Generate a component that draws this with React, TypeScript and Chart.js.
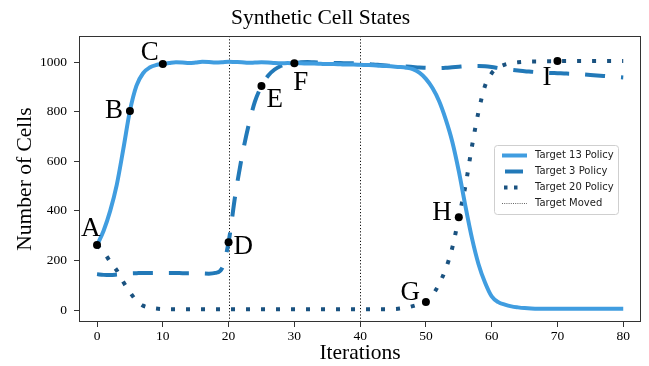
import React, { useEffect, useRef } from 'react';
import { Chart, registerables } from 'chart.js';

Chart.register(...registerables);

// ---------- data ----------
const iterations: number[] = Array.from({ length: 81 }, (_, i) => i);

const target13: number[] = [
  262, 320, 400, 505, 650, 803, 905, 955, 978, 988,
  992, 996, 999, 998, 996, 998, 1001, 1000, 998, 999,
  1001, 1000, 999, 997, 998, 999, 998, 996, 995, 996,
  995, 995, 994, 994, 993, 992, 992, 991, 990, 990,
  989, 988, 987, 985, 984, 982, 980, 977, 971, 957,
  932, 895, 843, 770, 680, 560, 420, 290, 185, 110,
  55, 32, 22, 15, 11, 8, 6, 5, 5, 5,
  5, 5, 5, 5, 5, 5, 5, 5, 5, 5,
  5,
];

const target3: number[] = [
  145, 142, 141, 143, 146, 148, 149, 150, 150, 150,
  150, 150, 150, 149, 149, 149, 148, 147, 150, 168,
  274, 460, 615, 740, 840, 903, 945, 970, 985, 993,
  996, 999, 1000, 999, 998, 997, 996, 996, 995, 995,
  995, 993, 990, 988, 986, 984, 983, 982, 980, 978,
  977, 976, 976, 977, 979, 981, 983, 984, 984, 983,
  980, 976, 972, 969, 966, 963, 961, 959, 957, 956,
  955, 954, 953, 952, 950, 948, 946, 944, 942, 940,
  938,
];

const target20: number[] = [
  262, 235, 195, 160, 113, 72, 38, 18, 10, 6,
  4, 3, 3, 3, 3, 3, 3, 3, 3, 3,
  3, 3, 3, 3, 3, 3, 3, 3, 3, 3,
  3, 3, 3, 3, 3, 3, 3, 3, 3, 3,
  3, 3, 3, 3, 3, 4, 6, 10, 16, 24,
  33, 60, 105, 165, 250, 374, 500, 660, 800, 905,
  955, 978, 990, 996, 999, 1001, 1002, 1002, 1003, 1003,
  1004, 1004, 1004, 1004, 1004, 1004, 1004, 1004, 1004, 1004,
  1004,
];

const targetMovedAt: number[] = [20, 40];

const markerLabels: string[] = ['A', 'B', 'C', 'D', 'E', 'F', 'G', 'H', 'I'];
const markerX: number[] = [0, 5, 10, 20, 25, 30, 50, 55, 70];
const markerY: number[] = [262, 803, 992, 274, 903, 995, 33, 374, 1004];

const xTickValues: number[] = [0, 10, 20, 30, 40, 50, 60, 70, 80];
const yTickValues: number[] = [0, 200, 400, 600, 800, 1000];

const seriesNames: string[] = ['Target 13 Policy', 'Target 3 Policy', 'Target 20 Policy', 'Target Moved'];

// ---------- styles ----------
const SERIF = '"Liberation Serif", "Times New Roman", serif';
const SANS = '"DejaVu Sans", sans-serif';
const COLORS = {
  t13: 'rgb(64,157,224)',
  t3: 'rgb(34,121,184)',
  t20: 'rgb(26,82,128)',
  moved: '#111',
  frame: '#333',
};
const DASH_T3 = [20, 16];
const DASH_T20 = [4, 11];

// label offsets relative to the marker pixel: [dx, dy, align]
const LABEL_OFFSETS: Record<string, [number, number, CanvasTextAlign]> = {
  A: [-16, -9, 'left'],
  B: [-7, 7, 'right'],
  C: [-4, -4, 'right'],
  D: [5, 12, 'left'],
  E: [5, 21, 'left'],
  F: [-1, 27, 'left'],
  G: [-6, -2, 'right'],
  H: [-7, 3, 'right'],
  I: [-6, 24, 'right'],
};

const toPoints = (ys: number[]) => iterations.map((x, i) => ({ x, y: ys[i] }));

const decorPlugin = {
  id: 'decor',
  beforeDatasetsDraw(chart: any) {
    const { ctx, chartArea, scales } = chart;
    ctx.save();
    ctx.strokeStyle = COLORS.moved;
    ctx.lineWidth = 1;
    ctx.setLineDash([1.2, 2]);
    targetMovedAt.forEach((v) => {
      const px = Math.round(scales.x.getPixelForValue(v)) + 0.5;
      ctx.beginPath();
      ctx.moveTo(px, chartArea.top);
      ctx.lineTo(px, chartArea.bottom);
      ctx.stroke();
    });
    ctx.restore();
  },
  afterDatasetsDraw(chart: any) {
    const { ctx, chartArea, scales } = chart;
    ctx.save();
    // markers + letters
    markerLabels.forEach((lab, i) => {
      const px = scales.x.getPixelForValue(markerX[i]);
      const py = scales.y.getPixelForValue(markerY[i]);
      ctx.fillStyle = '#000';
      ctx.beginPath();
      ctx.arc(px, py, 4, 0, Math.PI * 2);
      ctx.fill();
      const [dx, dy, align] = LABEL_OFFSETS[lab];
      ctx.font = `27px ${SERIF}`;
      ctx.textAlign = align;
      ctx.textBaseline = 'alphabetic';
      ctx.fillText(lab, px + dx, py + dy);
    });

    // frame
    ctx.strokeStyle = COLORS.frame;
    ctx.lineWidth = 1;
    ctx.setLineDash([]);
    ctx.strokeRect(
      Math.round(chartArea.left) + 0.5,
      Math.round(chartArea.top) + 0.5,
      Math.round(chartArea.right - chartArea.left) - 1,
      Math.round(chartArea.bottom - chartArea.top) - 1
    );

    // legend
    const bw = 124;
    const bh = 69;
    const bx = chartArea.right - 23 - bw;
    const by = (chartArea.top + chartArea.bottom) / 2 - bh / 2;
    ctx.fillStyle = 'rgba(255,255,255,0.85)';
    ctx.strokeStyle = '#cfcfcf';
    ctx.lineWidth = 1;
    ctx.beginPath();
    const r = 3;
    const x0 = Math.round(bx) + 0.5;
    const y0 = Math.round(by) + 0.5;
    ctx.moveTo(x0 + r, y0);
    ctx.lineTo(x0 + bw - r, y0);
    ctx.arcTo(x0 + bw, y0, x0 + bw, y0 + r, r);
    ctx.lineTo(x0 + bw, y0 + bh - r);
    ctx.arcTo(x0 + bw, y0 + bh, x0 + bw - r, y0 + bh, r);
    ctx.lineTo(x0 + r, y0 + bh);
    ctx.arcTo(x0, y0 + bh, x0, y0 + bh - r, r);
    ctx.lineTo(x0, y0 + r);
    ctx.arcTo(x0, y0, x0 + r, y0, r);
    ctx.closePath();
    ctx.fill();
    ctx.stroke();

    const styles = [
      { color: COLORS.t13, width: 4, dash: [] as number[], start: 8, len: 25 },
      { color: COLORS.t3, width: 4, dash: [] as number[], start: 11, len: 18 },
      { color: COLORS.t20, width: 4, dash: [3.5, 6.5], start: 10, len: 16 },
      { color: '#666', width: 1, dash: [1, 1.2], start: 8, len: 25 },
    ];
    ctx.font = `10px ${SANS}`;
    ctx.textAlign = 'left';
    ctx.textBaseline = 'middle';
    seriesNames.forEach((name, i) => {
      const yy = by + 11 + i * 16;
      const s = styles[i];
      ctx.strokeStyle = s.color;
      ctx.lineWidth = s.width;
      ctx.lineCap = 'butt';
      ctx.setLineDash(s.dash);
      ctx.beginPath();
      ctx.moveTo(bx + s.start, yy);
      ctx.lineTo(bx + s.start + s.len, yy);
      ctx.stroke();
      ctx.setLineDash([]);
      ctx.fillStyle = '#222';
      ctx.fillText(name, bx + 41, yy);
    });
    ctx.restore();
  },
};

export default function App() {
  const ref = useRef<HTMLCanvasElement | null>(null);

  useEffect(() => {
    if (!ref.current) return;
    const tickFont = { family: SERIF, size: 13.5 };
    const chart = new Chart(ref.current, {
      type: 'line',
      data: {
        datasets: [
          {
            label: seriesNames[0],
            data: toPoints(target13),
            borderColor: COLORS.t13,
            borderWidth: 4,
            pointRadius: 0,
            cubicInterpolationMode: 'monotone',
            borderCapStyle: 'butt',
          },
          {
            label: seriesNames[1],
            data: toPoints(target3),
            borderColor: COLORS.t3,
            borderWidth: 4,
            borderDash: DASH_T3,
            pointRadius: 0,
            cubicInterpolationMode: 'monotone',
            borderCapStyle: 'butt',
          },
          {
            label: seriesNames[2],
            data: toPoints(target20),
            borderColor: COLORS.t20,
            borderWidth: 4,
            borderDash: DASH_T20,
            pointRadius: 0,
            cubicInterpolationMode: 'monotone',
            borderCapStyle: 'butt',
          },
        ],
      },
      options: {
        animation: false,
        responsive: false,
        devicePixelRatio: 1,
        layout: { padding: { left: 0, right: 8, top: 0, bottom: 0 } },
        plugins: {
          legend: { display: false },
          tooltip: { enabled: false },
          title: {
            display: true,
            text: 'Synthetic Cell States',
            color: '#000',
            font: { family: SERIF, size: 21.5, weight: 'normal', lineHeight: 1.2 },
            padding: { top: 5, bottom: 5.2 },
          },
        },
        scales: {
          x: {
            type: 'linear',
            min: -2.74,
            max: 82.7,
            afterFit: (s: any) => {
              s.height = 44;
            },
            afterBuildTicks: (s: any) => {
              s.ticks = xTickValues.map((v) => ({ value: v }));
            },
            ticks: {
              font: tickFont,
              color: '#000',
              padding: 1.5,
              maxRotation: 0,
              autoSkip: false,
              callback: (v: any) => String(v),
            },
            grid: { drawOnChartArea: false, drawTicks: true, tickLength: 5, color: COLORS.frame },
            border: { display: false },
            title: {
              display: true,
              text: 'Iterations',
              color: '#000',
              font: { family: SERIF, size: 21.5, lineHeight: 1.2 },
              padding: { top: 0, bottom: 0 },
            },
          },
          y: {
            type: 'linear',
            min: -48,
            max: 1105,
            afterFit: (s: any) => {
              s.width = 79;
            },
            afterBuildTicks: (s: any) => {
              s.ticks = yTickValues.map((v) => ({ value: v }));
            },
            ticks: {
              font: tickFont,
              color: '#000',
              padding: 7,
              autoSkip: false,
              callback: (v: any) => String(v),
            },
            grid: { drawOnChartArea: false, drawTicks: true, tickLength: 5, color: COLORS.frame },
            border: { display: false },
            title: {
              display: true,
              text: 'Number of Cells',
              color: '#000',
              font: { family: SERIF, size: 21.5, lineHeight: 1.2 },
              padding: { top: 12.6, bottom: 0 },
            },
          },
        },
      },
      plugins: [decorPlugin],
    } as any);
    return () => chart.destroy();
  }, []);

  return (
    <div style={{ position: 'absolute', left: 0, top: 0, width: 649, height: 366, background: '#fff' }}>
      <canvas ref={ref} width={649} height={366} style={{ display: 'block', width: 649, height: 366 }} />
    </div>
  );
}
